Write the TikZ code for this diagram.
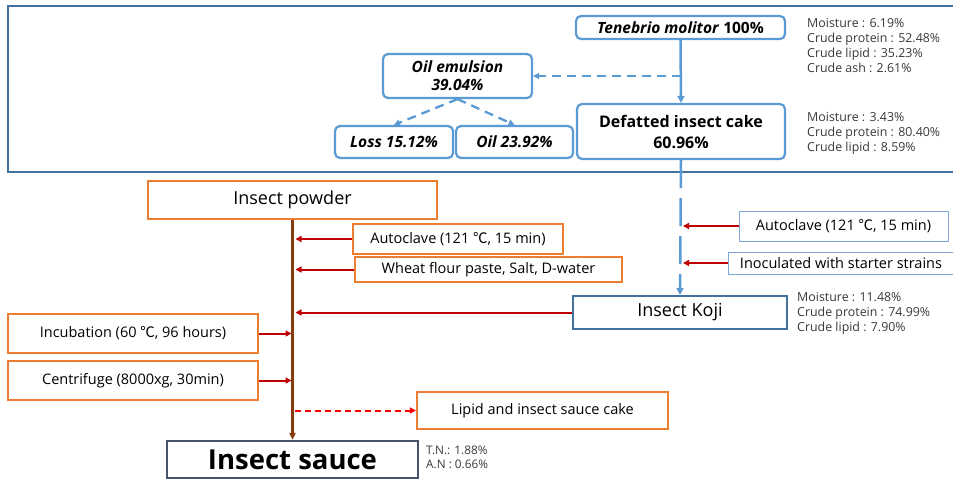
\documentclass[tikz,border=0pt]{standalone}
\usepackage{fontspec}
\setmainfont{Open Sans}
\newfontfamily\cjk{Noto Sans CJK KR}
\usetikzlibrary{arrows.meta}
\definecolor{frameblue}{HTML}{41719C}
\definecolor{lblue}{HTML}{5B9BD5}
\definecolor{tblue}{HTML}{7DA7D9}
\definecolor{orng}{HTML}{ED7D31}
\definecolor{dred}{HTML}{C00000}
\definecolor{brn}{HTML}{843C0C}
\definecolor{kojib}{HTML}{41719C}
\definecolor{sauceb}{HTML}{44546A}
\definecolor{comp}{HTML}{3A3A3A}
\newcommand{\degc}{{\cjk ℃}}
\begin{document}
\begin{tikzpicture}[x=1pt,y=-1pt,
  rbox/.style={draw=lblue, line width=2.2pt, rounded corners=5pt, fill=white, inner sep=0pt, align=center, font=\fontsize{15.5}{18}\selectfont\bfseries},
  obox/.style={draw=orng, line width=2.2pt, fill=white, inner sep=0pt, align=center},
  bbox/.style={draw=tblue, line width=1pt, fill=white, inner sep=0pt, align=center, font=\fontsize{14.5}{16}\selectfont},
  comptext/.style={anchor=north west, inner sep=0pt, align=left, text=comp, font=\fontsize{12.4}{15}\selectfont},
  barrow/.style={draw=lblue, line width=2.5pt, -{Triangle[length=7pt,width=7pt]}},
  bdash/.style={draw=lblue, line width=2.3pt, dash pattern=on 9pt off 6pt, -{Triangle[length=6pt,width=6pt]}},
  rarrow/.style={draw=dred, line width=2pt, -{Triangle[length=6pt,width=6pt]}},
  rdash/.style={draw=red, line width=2pt, dash pattern=on 6pt off 4pt, -{Triangle[length=6pt,width=6pt]}},
]
\useasboundingbox (0,0) rectangle (953,482);
\fill[white] (0,0) rectangle (953,482);
% top frame
\draw[frameblue, line width=2.2pt] (953,6) -- (8,6) -- (8,172) -- (953,172);

% top nodes
\node[rbox, minimum width=209pt, minimum height=23pt] (ten) at (680.5,27.5) {\textit{Tenebrio molitor} 100\%};
\node[rbox, minimum width=149pt, minimum height=44pt, font=\fontsize{15.5}{18}\selectfont\bfseries\itshape] (oilem) at (457.5,76) {Oil emulsion\\39.04\%};
\node[rbox, minimum width=118pt, minimum height=32pt, font=\fontsize{15.5}{18}\selectfont\bfseries\itshape] (loss) at (394,142) {Loss 15.12\%};
\node[rbox, minimum width=117pt, minimum height=32pt, font=\fontsize{15.5}{18}\selectfont\bfseries\itshape] (oil) at (514.5,142) {Oil 23.92\%};
\node[rbox, minimum width=208pt, minimum height=55pt, font=\fontsize{16}{21}\selectfont\bfseries] (def) at (681,131.5) {Defatted insect cake\\60.96\%};

\node[comptext] (c1) at (807,18.5) {Moisture : 6.19\%\\Crude protein : 52.48\%\\Crude lipid : 35.23\%\\Crude ash : 2.61\%};
\node[comptext] (c2) at (807,112.5) {Moisture : 3.43\%\\Crude protein : 80.40\%\\Crude lipid : 8.59\%};

\coordinate (j1) at (ten.south |- oilem.east);
\draw[barrow] (ten.south) -- (def.north);
\draw[bdash] (j1) -- (oilem.east);
\draw[bdash] (oilem.south) -- (loss.north);
\draw[bdash] (oilem.south) -- (oil.north);

% right column
\node[bbox, minimum width=209pt, minimum height=30pt] (rauto) at (843.5,226) {Autoclave (121 \degc, 15 min)};
\node[bbox, minimum width=226pt, minimum height=22pt] (inoc) at (841,263) {Inoculated with starter strains};
\node[draw=kojib, line width=2pt, fill=white, inner sep=0pt, minimum width=214pt, minimum height=33pt, font=\fontsize{18}{21}\selectfont] (koji) at (680,312.5) {Insect Koji};
\node[comptext] (c3) at (797,292) {Moisture : 11.48\%\\Crude protein : 74.99\%\\Crude lipid : 7.90\%};

\draw[draw=lblue, line width=2.5pt, dash pattern=on 28pt off 10pt, -{Triangle[length=7pt,width=7pt]}] (def.south) -- (koji.north);
\coordinate (j2) at ([xshift=2pt]def.south |- rauto.west);
\coordinate (j3) at ([xshift=2pt]def.south |- inoc.west);
\draw[rarrow] (rauto.west) -- (j2);
\draw[rarrow] (inoc.west) -- (j3);

% left column
\node[obox, minimum width=289pt, minimum height=38pt, font=\fontsize{18}{21}\selectfont] (pow) at (292.5,200) {Insect powder};
\node[draw=sauceb, line width=2.2pt, fill=white, inner sep=0pt, minimum width=251pt, minimum height=37pt, font=\fontsize{27.5}{31}\selectfont\bfseries] (sauce) at (292.5,459.5) {Insect sauce};
\node[comptext, font=\fontsize{11.8}{14}\selectfont] (c4) at (426,446) {T.N.: 1.88\%\\A.N : 0.66\%};

\node[obox, minimum width=210pt, minimum height=30pt, font=\fontsize{14.5}{16}\selectfont] (lauto) at (458,239) {Autoclave (121 \degc, 15 min)};
\node[obox, minimum width=267pt, minimum height=25pt, font=\fontsize{14.5}{16}\selectfont] (wheat) at (488.5,269.5) {Wheat flour paste, Salt, D-water};
\node[obox, minimum width=250pt, minimum height=39pt, font=\fontsize{14.5}{16}\selectfont] (inc) at (133,333.5) {Incubation (60 \degc, 96 hours)};
\node[obox, minimum width=250pt, minimum height=39pt, font=\fontsize{14.5}{16}\selectfont] (cen) at (133,380.5) {Centrifuge (8000xg, 30min)};
\node[obox, minimum width=251pt, minimum height=37pt, font=\fontsize{14.5}{16}\selectfont] (lip) at (542.5,410.5) {Lipid and insect sauce cake};

\draw[draw=brn, line width=2.2pt, -{Triangle[length=7pt,width=6pt]}] (pow.south) -- (sauce.north);
\coordinate (s1) at ([xshift=3pt]pow.south |- lauto.west);
\coordinate (s2) at ([xshift=3pt]pow.south |- wheat.west);
\coordinate (s3) at ([xshift=3pt]pow.south |- koji.west);
\coordinate (s4) at ([xshift=-1pt]pow.south |- inc.east);
\coordinate (s5) at ([xshift=-1pt]pow.south |- cen.east);
\coordinate (s6) at ([xshift=2pt]pow.south |- lip.west);
\draw[rarrow] (lauto.west) -- (s1);
\draw[rarrow] (wheat.west) -- (s2);
\draw[rarrow] (koji.west) -- (s3);
\draw[rarrow] (inc.east) -- (s4);
\draw[rarrow] (cen.east) -- (s5);
\draw[rdash] (s6) -- (lip.west);
\end{tikzpicture}
\end{document}
